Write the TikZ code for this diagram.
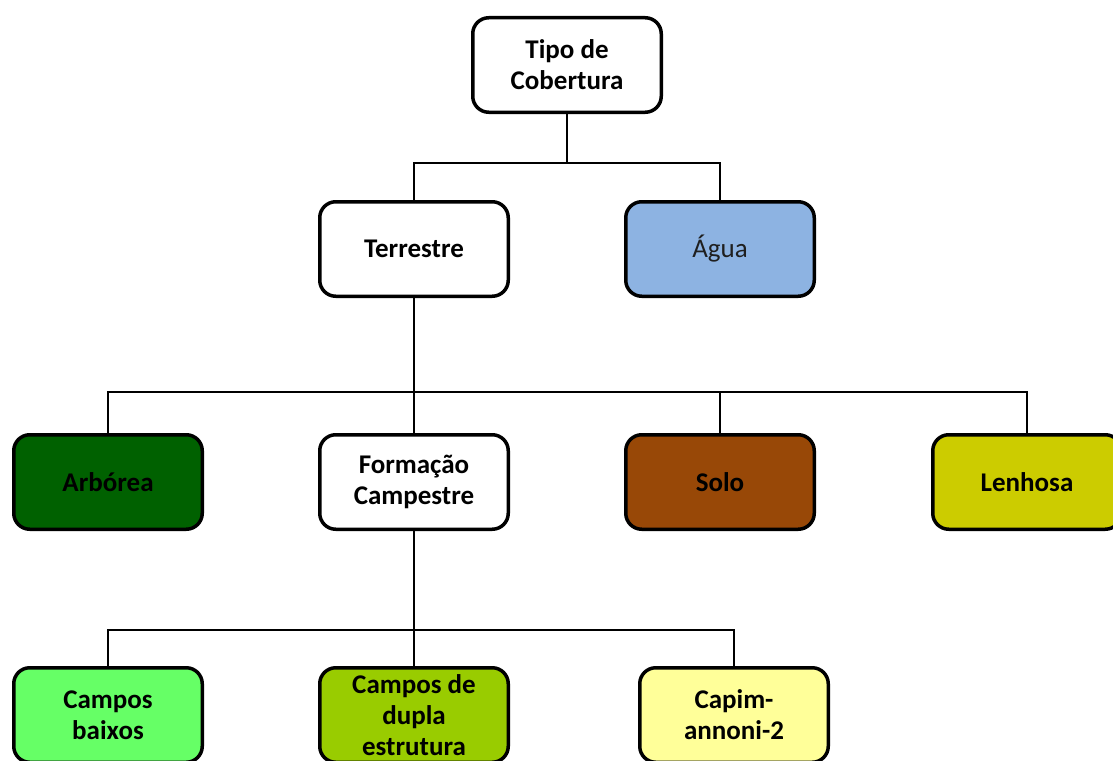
\documentclass[tikz,border=0pt]{standalone}
\usepackage{fontspec}
\setmainfont{Carlito}
\begin{document}
\begin{tikzpicture}[x=1pt,y=-1pt,
  box/.style={draw=black, line width=3.5pt, rounded corners=16pt, minimum width=188.5pt, minimum height=94.5pt, align=center, inner sep=2pt, font=\fontsize{27}{31}\selectfont\bfseries, text=black},
  conn/.style={draw=black, line width=1.3pt}]
\definecolor{agua}{HTML}{8DB3E2}
\definecolor{arbo}{HTML}{006100}
\definecolor{solo}{HTML}{984807}
\definecolor{lenh}{HTML}{CCCC00}
\definecolor{cbx}{HTML}{66FF66}
\definecolor{cdp}{HTML}{99CC00}
\definecolor{cap}{HTML}{FFFF99}
\useasboundingbox (0,0) rectangle (1113,760);
\clip (0,0) rectangle (1113,760);
\fill[white] (0,0) rectangle (1113,760);
\node[box, fill=white] (tipo) at (567,65) {Tipo de\\Cobertura};
\node[box, fill=white] (terr) at (414,249) {Terrestre};
\node[box, fill=agua, font=\fontsize{27}{31}\selectfont, text=black!88] (agua) at (720,249) {Água};
\node[box, fill=arbo] (arb) at (108,482) {Arbórea};
\node[box, fill=white] (form) at (414,482) {Formação\\Campestre};
\node[box, fill=solo] (solo) at (720,482) {Solo};
\node[box, fill=lenh] (lenh) at (1027,482) {Lenhosa};
\node[box, fill=cbx] (cb) at (108,715) {Campos\\baixos};
\node[box, fill=cdp] (cd) at (414,715) {Campos de\\dupla\\estrutura};
\node[box, fill=cap] (capn) at (734,715) {Capim-\\annoni-2};
\coordinate (j1) at (567,163);
\coordinate (j2) at (414,392);
\coordinate (j3) at (414,630);
\draw[conn] (tipo.south) -- (j1);
\draw[conn] (j1) -| (terr.north);
\draw[conn] (j1) -| (agua.north);
\draw[conn] (terr.south) -- (j2);
\draw[conn] (j2) -| (arb.north);
\draw[conn] (j2) -- (form.north);
\draw[conn] (j2) -| (solo.north);
\draw[conn] (j2) -| (lenh.north);
\draw[conn] (form.south) -- (j3);
\draw[conn] (j3) -| (cb.north);
\draw[conn] (j3) -- (cd.north);
\draw[conn] (j3) -| (capn.north);
\end{tikzpicture}
\end{document}
